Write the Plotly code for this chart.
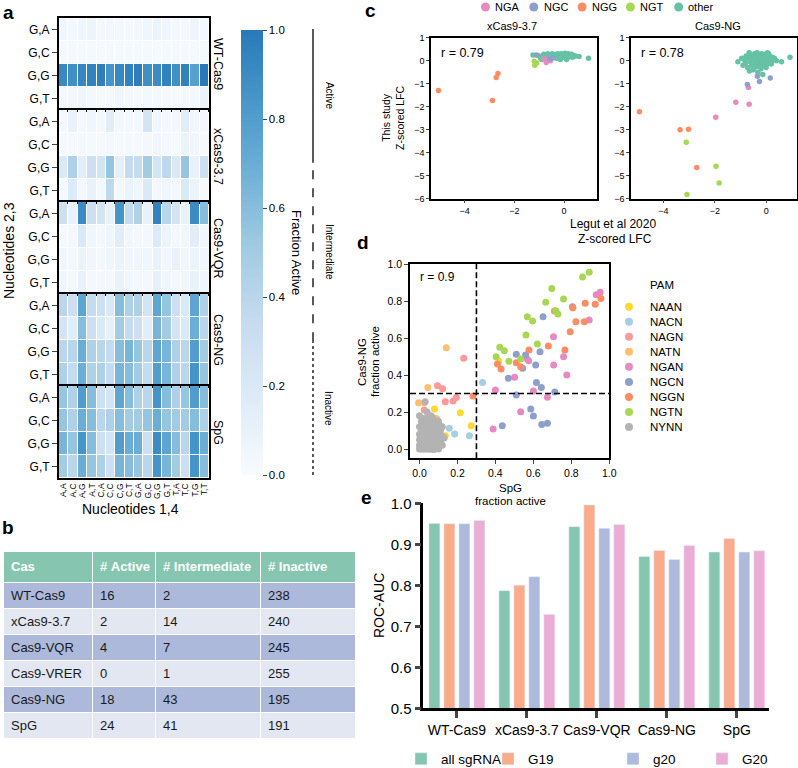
import plotly.graph_objects as go

W, H = 798, 768
FONT = "Liberation Sans, Arial, sans-serif"


def fx(p):
    return p / W


def fy(p):
    return 1 - p / H


# ---------------- panel a : heatmaps ----------------
nuc14 = ["A,A", "A,C", "A,G", "A,T", "C,A", "C,C", "C,G", "C,T",
         "G,A", "G,C", "G,G", "G,T", "T,A", "T,C", "T,G", "T,T"]
nuc23 = ["G,A", "G,C", "G,G", "G,T"]
cas_a = ["WT-Cas9", "xCas9-3.7", "Cas9-VQR", "Cas9-NG", "SpG"]

frac_wt = [
    [0.05, 0.03, 0.05, 0.07, 0.03, 0.04, 0.03, 0.03, 0.03, 0.05, 0.08, 0.05, 0.03, 0.03, 0.06, 0.03],
    [0.02, 0.02, 0.02, 0.02, 0.02, 0.02, 0.02, 0.02, 0.02, 0.02, 0.02, 0.02, 0.02, 0.02, 0.02, 0.02],
    [0.92, 0.88, 0.93, 0.95, 0.97, 0.85, 0.92, 0.95, 0.98, 0.88, 0.90, 0.95, 0.88, 0.96, 0.78, 1.00],
    [0.03, 0.03, 0.05, 0.03, 0.02, 0.02, 0.05, 0.03, 0.02, 0.03, 0.03, 0.02, 0.02, 0.03, 0.03, 0.08],
]
frac_xcas = [
    [0.03, 0.10, 0.03, 0.05, 0.03, 0.15, 0.03, 0.03, 0.03, 0.25, 0.05, 0.03, 0.03, 0.15, 0.05, 0.03],
    [0.02, 0.02, 0.03, 0.02, 0.02, 0.03, 0.02, 0.02, 0.02, 0.03, 0.05, 0.03, 0.02, 0.08, 0.05, 0.02],
    [0.20, 0.45, 0.15, 0.30, 0.25, 0.55, 0.12, 0.35, 0.35, 0.50, 0.25, 0.38, 0.20, 0.55, 0.10, 0.30],
    [0.02, 0.18, 0.03, 0.10, 0.03, 0.38, 0.03, 0.08, 0.05, 0.20, 0.03, 0.05, 0.03, 0.20, 0.08, 0.02],
]
frac_vqr = [
    [0.30, 0.10, 0.90, 0.30, 0.25, 0.10, 0.85, 0.35, 0.45, 0.10, 0.95, 0.40, 0.25, 0.10, 0.90, 0.60],
    [0.02, 0.03, 0.20, 0.05, 0.03, 0.05, 0.15, 0.05, 0.03, 0.03, 0.18, 0.08, 0.03, 0.05, 0.15, 0.05],
    [0.05, 0.03, 0.08, 0.05, 0.03, 0.05, 0.08, 0.05, 0.05, 0.05, 0.10, 0.05, 0.10, 0.05, 0.08, 0.05],
    [0.05, 0.03, 0.10, 0.03, 0.03, 0.03, 0.10, 0.05, 0.03, 0.03, 0.12, 0.05, 0.03, 0.05, 0.10, 0.05],
]
frac_ng = [
    [0.40, 0.30, 0.75, 0.35, 0.30, 0.20, 0.60, 0.45, 0.45, 0.25, 0.75, 0.55, 0.30, 0.20, 0.75, 0.45],
    [0.25, 0.15, 0.60, 0.30, 0.20, 0.12, 0.50, 0.35, 0.30, 0.15, 0.65, 0.50, 0.25, 0.20, 0.70, 0.40],
    [0.40, 0.40, 0.70, 0.45, 0.40, 0.35, 0.60, 0.65, 0.55, 0.40, 0.75, 0.65, 0.45, 0.40, 0.80, 0.50],
    [0.45, 0.35, 0.70, 0.45, 0.45, 0.35, 0.65, 0.60, 0.50, 0.35, 0.80, 0.65, 0.45, 0.40, 0.85, 0.55],
]
frac_spg = [
    [0.55, 0.45, 0.80, 0.60, 0.30, 0.25, 0.75, 0.60, 0.45, 0.40, 0.85, 0.60, 0.45, 0.55, 0.80, 0.60],
    [0.55, 0.45, 0.70, 0.60, 0.40, 0.45, 0.60, 0.50, 0.50, 0.55, 0.70, 0.55, 0.50, 0.50, 0.60, 0.45],
    [0.65, 0.55, 0.85, 0.60, 0.30, 0.25, 0.80, 0.70, 0.70, 0.30, 0.90, 0.75, 0.60, 0.40, 0.85, 0.70],
    [0.50, 0.40, 0.70, 0.55, 0.45, 0.30, 0.65, 0.60, 0.55, 0.40, 0.85, 0.65, 0.50, 0.30, 0.85, 0.60],
]
heat_values = [frac_wt, frac_xcas, frac_vqr, frac_ng, frac_spg]
activity_thresholds = [0.3, 0.7]
activity_labels = ["Inactive", "Intermediate", "Active"]

# ---------------- panel b : table ----------------
tab_header = ["Cas", "# Active", "# Intermediate", "# Inactive"]
tab_cas = ["WT-Cas9", "xCas9-3.7", "Cas9-VQR", "Cas9-VRER", "Cas9-NG", "SpG"]
tab_active = [16, 2, 4, 0, 18, 24]
tab_intermediate = [2, 14, 7, 1, 43, 41]
tab_inactive = [238, 240, 245, 255, 195, 191]

# ---------------- panel c : z-scored LFC comparison ----------------
c_pams = ["NGA", "NGC", "NGG", "NGT", "other"]
c_colors = ["#e78ac3", "#8da0cb", "#fc8d62", "#a6d854", "#66c2a5"]
c_r = ["r = 0.79", "r = 0.78"]
c_titles = ["xCas9-3.7", "Cas9-NG"]

c1_nga = [(-0.72, -0.08), (-0.8, 0.08), (-0.55, 0.0)]
c1_ngc = [(-1.12, 0.25), (-0.56, 0.07), (-0.45, 0.12)]
c1_ngg = [(-5.05, -1.3), (-2.88, -1.73), (-2.73, -0.73), (-2.66, -0.56)]
c1_ngt = [(-1.2, -0.02), (-1.18, -0.2), (-1.1, -0.1)]
c1_other = [(-1.25, 0.25), (-1.05, 0.22), (-0.95, 0.12), (-0.88, 0.2), (-0.82, 0.28), (-0.75, 0.15),
            (-0.7, 0.22), (-0.66, 0.3), (-0.6, 0.18), (-0.55, 0.25), (-0.52, 0.12), (-0.48, 0.3),
            (-0.44, 0.2), (-0.4, 0.15), (-0.36, 0.27), (-0.32, 0.22), (-0.3, 0.1), (-0.26, 0.3),
            (-0.22, 0.18), (-0.2, 0.25), (-0.16, 0.13), (-0.12, 0.3), (-0.1, 0.2), (-0.06, 0.26),
            (-0.03, 0.15), (0.0, 0.22), (0.03, 0.32), (0.06, 0.18), (0.08, 0.27), (0.11, 0.12),
            (0.14, 0.22), (0.17, 0.3), (0.2, 0.17), (0.23, 0.25), (0.26, 0.2), (0.3, 0.28),
            (0.34, 0.15), (0.38, 0.22), (0.45, 0.2), (0.6, 0.18), (0.98, 0.1), (-0.9, 0.05),
            (-0.62, 0.08), (-0.15, 0.05), (0.1, 0.05)]

c2_nga = [(-0.69, -1.17), (-1.18, -1.81), (-0.66, -1.9), (-1.96, -2.46)]
c2_ngc = [(-0.73, -1.04), (-0.34, -0.68), (-0.26, -0.91), (0.16, -0.75)]
c2_ngg = [(-4.93, -2.22), (-3.35, -3.01), (-3.02, -2.98), (-2.7, -4.65)]
c2_ngt = [(-3.11, -3.55), (-1.95, -4.6), (-1.83, -5.32), (-3.08, -5.83)]
c2_other = [(-1.1, -0.05), (-0.95, 0.1), (-0.9, -0.2), (-0.85, 0.05), (-0.8, -0.1), (-0.78, 0.2),
            (-0.72, -0.3), (-0.7, 0.1), (-0.66, 0.35), (-0.62, -0.05), (-0.6, 0.25), (-0.56, -0.2),
            (-0.52, 0.15), (-0.5, -0.4), (-0.47, 0.05), (-0.45, 0.3), (-0.42, -0.1), (-0.4, 0.2),
            (-0.37, -0.25), (-0.35, 0.1), (-0.32, -0.5), (-0.3, 0.0), (-0.28, 0.25), (-0.25, -0.15),
            (-0.23, 0.12), (-0.2, -0.35), (-0.18, 0.3), (-0.16, 0.02), (-0.13, -0.6), (-0.12, 0.18),
            (-0.1, -0.2), (-0.08, 0.08), (-0.05, 0.28), (-0.04, -0.08), (-0.02, 0.15), (0.0, -0.3),
            (0.02, 0.05), (0.04, 0.22), (0.06, -0.12), (0.08, 0.12), (0.1, 0.3), (0.12, -0.02),
            (0.15, 0.18), (0.18, 0.08), (0.2, -0.15), (0.24, 0.15), (0.28, 0.02), (0.32, 0.1),
            (0.4, 0.0), (0.6, -0.05), (0.93, 0.15), (-0.65, -0.45), (-0.35, 0.35), (0.05, 0.35)]

# ---------------- panel d : SpG vs Cas9-NG fraction active ----------------
d_pams = ["NAAN", "NACN", "NAGN", "NATN", "NGAN", "NGCN", "NGGN", "NGTN", "NYNN"]
d_colors = ["#ffd92f", "#a6cee3", "#fb9a99", "#fdbf6f", "#e78ac3", "#8da0cb", "#fc8d62", "#a6d854", "#b3b3b3"]
d_threshold = 0.3
d_r = "r = 0.9"

d_naan = [(0.418, 0.476), (0.079, 0.216), (0.215, 0.196), (0.272, 0.126), (0.136, 0.072), (0.083, 0.03)]
d_nacn = [(0.332, 0.36), (0.157, 0.112), (0.185, 0.081), (0.263, 0.072), (0.074, -0.002)]
d_nagn = [(0.233, 0.49), (0.095, 0.342), (0.122, 0.326), (0.194, 0.279), (0.177, 0.26), (0.136, 0.256),
          (0.025, 0.211), (0.042, 0.171), (0.053, 0.139)]
d_natn = [(0.141, 0.548), (0.044, 0.333), (-0.005, 0.25), (0.025, 0.25), (0.018, 0.139), (0.09, 0.165)]
d_ngan = [(0.952, 0.847), (0.931, 0.834), (0.894, 0.697), (0.706, 0.607), (0.759, 0.499), (0.707, 0.454),
          (0.776, 0.4), (0.568, 0.485), (0.575, 0.477), (0.501, 0.388), (0.4, 0.319), (0.6, 0.314),
          (0.674, 0.28), (0.533, 0.202), (0.388, 0.108)]
d_ngcn = [(0.806, 0.769), (0.651, 0.715), (0.635, 0.526), (0.559, 0.508), (0.51, 0.512), (0.543, 0.436),
          (0.612, 0.454), (0.468, 0.382), (0.616, 0.36), (0.642, 0.333), (0.713, 0.308), (0.51, 0.292),
          (0.586, 0.216), (0.6, 0.178), (0.644, 0.133), (0.674, 0.139), (0.436, 0.126)]
d_nggn = [(0.956, 0.814), (0.926, 0.782), (0.873, 0.788), (0.808, 0.764), (0.824, 0.688), (0.868, 0.688),
          (0.794, 0.634), (0.679, 0.557), (0.766, 0.535), (0.577, 0.535), (0.411, 0.459), (0.43, 0.432),
          (0.51, 0.466), (0.533, 0.445), (0.711, 0.746), (0.282, 0.286)]
d_ngtn = [(0.894, 0.955), (0.859, 0.93), (0.697, 0.868), (0.665, 0.793), (0.759, 0.811), (0.718, 0.748),
          (0.73, 0.73), (0.568, 0.715), (0.596, 0.692), (0.561, 0.616), (0.621, 0.568), (0.423, 0.55),
          (0.447, 0.531), (0.404, 0.499), (0.471, 0.474), (0.533, 0.486)]
d_nynn = [(0.0, 0.0), (0.01, 0.0), (0.02, 0.0), (0.03, 0.0), (0.04, 0.0), (0.05, 0.0), (0.06, 0.0),
          (0.07, 0.0), (0.08, 0.0), (0.1, 0.0), (0.0, 0.02), (0.02, 0.03), (0.04, 0.02), (0.06, 0.03),
          (0.08, 0.02), (0.1, 0.03), (0.0, 0.05), (0.01, 0.04), (0.03, 0.05), (0.05, 0.06), (0.07, 0.05),
          (0.09, 0.06), (0.11, 0.04), (0.0, 0.08), (0.02, 0.07), (0.04, 0.08), (0.06, 0.07), (0.08, 0.09),
          (0.1, 0.08), (0.12, 0.07), (0.01, 0.1), (0.03, 0.11), (0.05, 0.1), (0.07, 0.12), (0.09, 0.11),
          (0.11, 0.1), (0.0, 0.12), (0.02, 0.13), (0.04, 0.12), (0.06, 0.14), (0.08, 0.13), (0.1, 0.12),
          (0.01, 0.15), (0.03, 0.16), (0.05, 0.15), (0.07, 0.17), (0.09, 0.15), (0.0, 0.18), (0.06, 0.18),
          (0.04, 0.2), (0.03, 0.255), (0.02, 0.06), (0.12, 0.02), (0.13, 0.06), (0.1, 0.15), (0.01, 0.01),
          (0.03, 0.015), (0.05, 0.035), (0.07, 0.025), (0.09, 0.04), (0.015, 0.085), (0.035, 0.095),
          (0.055, 0.085), (0.075, 0.095), (0.095, 0.09), (0.025, 0.115), (0.045, 0.135), (0.065, 0.105),
          (0.085, 0.14), (0.105, 0.13), (0.02, 0.165), (0.12, 0.12), (0.11, 0.055)]
d_series = [d_naan, d_nacn, d_nagn, d_natn, d_ngan, d_ngcn, d_nggn, d_ngtn, d_nynn]

# ---------------- panel e : ROC-AUC bars ----------------
e_cas = ["WT-Cas9", "xCas9-3.7", "Cas9-VQR", "Cas9-NG", "SpG"]
e_names = ["all sgRNA", "G19", "g20", "G20"]
e_colors = ["#85c6b0", "#f9ab8b", "#adbadb", "#ebadd5"]
auc_all = [0.951, 0.787, 0.943, 0.870, 0.881]
auc_g19 = [0.950, 0.800, 0.996, 0.885, 0.914]
auc_g20_lower = [0.950, 0.821, 0.939, 0.863, 0.881]
auc_g20_upper = [0.958, 0.729, 0.948, 0.897, 0.884]
e_values = [auc_all, auc_g19, auc_g20_lower, auc_g20_upper]

# ====================================================================
blues_scale = [[0.0, "#f7fbff"], [0.174, "#deebf7"], [0.347, "#c6dbef"], [0.521, "#9ecae1"],
               [0.694, "#6baed6"], [0.868, "#4292c6"], [1.0, "#2979b9"]]

fig = go.Figure()
layout = {}
annotations = []
shapes = []


def ann(text, x, y, size=12, angle=0, xanchor="center", yanchor="middle", xref="paper", yref="paper", color="black"):
    annotations.append(dict(text=text, x=x, y=y, xref=xref, yref=yref, showarrow=False,
                            textangle=angle, xanchor=xanchor, yanchor=yanchor,
                            font=dict(size=size, color=color, family=FONT)))


def axkey(prefix, n):
    return prefix if n == 1 else f"{prefix}{n}"


def pair(lst):
    return [p[0] for p in lst], [p[1] for p in lst]


# ---- panel a
a_top, a_block = 18, 92
for i, (cas, z) in enumerate(zip(cas_a, heat_values)):
    n = i + 1
    fig.add_trace(go.Heatmap(z=z, x=nuc14, y=nuc23, coloraxis="coloraxis", xgap=1, ygap=1,
                             xaxis=axkey("x", n), yaxis=axkey("y", n), hoverinfo="skip"))
    top = a_top + a_block * i
    layout[axkey("xaxis", n)] = dict(domain=[fx(59), fx(209)], anchor=axkey("y", n),
                                     showline=True, mirror=True, linewidth=2, linecolor="black",
                                     ticks="", showticklabels=(i == 4), tickangle=-90,
                                     tickmode="array", tickvals=nuc14, ticktext=nuc14,
                                     tickfont=dict(size=8.5), showgrid=False, zeroline=False)
    layout[axkey("yaxis", n)] = dict(domain=[fy(top + a_block), fy(top)], anchor=axkey("x", n),
                                     autorange="reversed", showline=True, mirror=True, linewidth=2,
                                     linecolor="black", ticks="outside", ticklen=5, tickwidth=1,
                                     tickfont=dict(size=12), showgrid=False, zeroline=False)
    ann(cas, fx(218), fy(top + a_block / 2), size=12.5, angle=90)

layout["coloraxis"] = dict(colorscale=blues_scale, cmin=0, cmax=1,
                           colorbar=dict(x=fx(241), xanchor="left", y=fy(30), yanchor="top",
                                         len=445 / H, lenmode="fraction", thickness=22,
                                         thicknessmode="pixels", outlinewidth=0, ticks="outside",
                                         ticklen=4, tickwidth=1, tickvals=[0, 0.2, 0.4, 0.6, 0.8, 1.0],
                                         tickformat=".1f", tickfont=dict(size=11.5), xpad=0, ypad=0))
ann("Fraction Active", fx(297), fy(252), size=13, angle=90)

# threshold guide next to colorbar
bounds = [0.0] + activity_thresholds + [1.0]
dashes = ["dot", "dash", "solid"]
for k in range(3):
    fig.add_trace(go.Scatter(x=[0, 0], y=[bounds[k], bounds[k + 1]], mode="lines",
                             line=dict(color="black", width=1.3, dash=dashes[k]),
                             xaxis="x6", yaxis="y6", showlegend=False, hoverinfo="skip"))
    ann(activity_labels[k], 1, (bounds[k] + bounds[k + 1]) / 2, size=10, angle=90,
        xref="x6", yref="y6")
layout["xaxis6"] = dict(domain=[fx(297), fx(345)], range=[-1, 2], visible=False, anchor="y6")
layout["yaxis6"] = dict(domain=[fy(475), fy(29)], range=[0, 1.0], visible=False, anchor="x6")

ann("Nucleotides 1,4", fx(130), fy(509), size=14)
ann("Nucleotides 2,3", fx(9), fy(251), size=14, angle=-90)

# ---- panel b : table
NBSP = "\u00a0"
row_fill = ["#adb9db" if r % 2 == 0 else "#e3e7f2" for r in range(len(tab_cas))]
fig.add_trace(go.Table(
    domain=dict(x=[fx(3), fx(355)], y=[fy(745), fy(551)]),
    columnwidth=[89, 63, 105, 95],
    header=dict(values=[f"<b>{h.replace(' ', NBSP)}</b>" for h in tab_header], fill_color="#86c6b0",
                font=dict(color="white", size=13, family=FONT), align="left", height=26,
                line=dict(color="white", width=1)),
    cells=dict(values=[tab_cas, tab_active, tab_intermediate, tab_inactive],
               fill_color=[row_fill] * 4, font=dict(color="#1a1a1a", size=13, family=FONT),
               align="left", height=26, line=dict(color="white", width=1)),
))

# ---- panel c
c_sets = [[c1_nga, c1_ngc, c1_ngg, c1_ngt, c1_other], [c2_nga, c2_ngc, c2_ngg, c2_ngt, c2_other]]
c_x_dom = [(431, 596.7), (631, 796.7)]
c_x_rng = [(-5.35, 1.31), (-5.26, 1.19)]
for j in range(2):
    n = 7 + j
    order = [4, 0, 1, 2, 3]
    for k in order:
        xs, ys = pair(c_sets[j][k])
        fig.add_trace(go.Scatter(x=xs, y=ys, mode="markers", marker=dict(color=c_colors[k], size=5.5),
                                 xaxis=f"x{n}", yaxis=f"y{n}", showlegend=False, hoverinfo="skip"))
    layout[f"xaxis{n}"] = dict(domain=[fx(c_x_dom[j][0]), fx(c_x_dom[j][1])], range=list(c_x_rng[j]),
                               anchor=f"y{n}", showline=True, mirror=True, linewidth=1.5,
                               linecolor="black", ticks="outside", ticklen=3, tickvals=[-4, -2, 0],
                               tickfont=dict(size=9), showgrid=False, zeroline=False)
    layout[f"yaxis{n}"] = dict(domain=[fy(198.5), fy(37.7)], range=[-6, 1], anchor=f"x{n}",
                               showline=True, mirror=True, linewidth=1.5, linecolor="black",
                               ticks="outside", ticklen=3, tickvals=list(range(-6, 2)),
                               tickfont=dict(size=9), showgrid=False, zeroline=False)
    ann(c_titles[j], fx([512, 718][j]), fy(26), size=11)
    ann(c_r[j], fx([462, 662][j]), fy(53), size=12.5)

ann("This study<br>Z-scored LFC", fx(393), fy(118), size=10.5, angle=-90)
ann("Legut et al 2020", fx(613), fy(223.5), size=12)
ann("Z-scored LFC", fx(615), fy(239.5), size=12)

# c legend (drawn on hidden axis)
fig.add_trace(go.Scatter(x=list(range(len(c_pams))), y=[0] * len(c_pams), mode="markers",
                         marker=dict(color=c_colors, size=9), xaxis="x11", yaxis="y11",
                         showlegend=False, hoverinfo="skip"))
for k, p in enumerate(c_pams):
    ann(p, k + 0.16, 0, size=11, xanchor="left", xref="x11", yref="y11")
layout["xaxis11"] = dict(domain=[fx(475), fx(730)], range=[-0.217, 5.062], visible=False, anchor="y11")
layout["yaxis11"] = dict(domain=[fy(14), fy(0)], range=[-1, 1], visible=False, anchor="x11")

# ---- panel d
for k, s in enumerate(d_series):
    xs, ys = pair(s)
    fig.add_trace(go.Scatter(x=xs, y=ys, mode="markers", marker=dict(color=d_colors[k], size=7),
                             xaxis="x9", yaxis="y9", showlegend=False, hoverinfo="skip"))
tick01 = [0, 0.2, 0.4, 0.6, 0.8, 1.0]
layout["xaxis9"] = dict(domain=[fx(410), fx(609.3)], range=[-0.05, 1.0], anchor="y9", showline=True,
                        mirror=True, linewidth=1.5, linecolor="black", ticks="outside", ticklen=4,
                        tickvals=tick01, tickformat=".1f", tickfont=dict(size=10.5),
                        showgrid=False, zeroline=False)
layout["yaxis9"] = dict(domain=[fy(458.3), fy(264)], range=[-0.05, 1.0], anchor="x9", showline=True,
                        mirror=True, linewidth=1.5, linecolor="black", ticks="outside", ticklen=4,
                        tickvals=tick01, tickformat=".1f", tickfont=dict(size=10.5),
                        showgrid=False, zeroline=False)
shapes.append(dict(type="line", xref="x9", yref="y9 domain", x0=d_threshold, x1=d_threshold, y0=0, y1=1,
                   line=dict(color="black", width=1.6, dash="6px,3px")))
shapes.append(dict(type="line", xref="x9 domain", yref="y9", x0=0, x1=1, y0=d_threshold, y1=d_threshold,
                   line=dict(color="black", width=1.6, dash="6px,3px")))
ann(d_r, fx(437), fy(277), size=12)
ann("Cas9-NG", fx(362), fy(362), size=11.5, angle=-90)
ann("fraction active", fx(375), fy(362), size=11.5, angle=-90)
ann("SpG", fx(510), fy(488), size=11.5)
ann("fraction active", fx(510), fy(500.5), size=11.5)

# d legend (hidden axis)
fig.add_trace(go.Scatter(x=[0] * len(d_pams), y=list(range(len(d_pams))), mode="markers",
                         marker=dict(color=d_colors, size=8), xaxis="x12", yaxis="y12",
                         showlegend=False, hoverinfo="skip"))
for k, p in enumerate(d_pams):
    ann(p, 1.9, k, size=11.5, xanchor="left", xref="x12", yref="y12")
ann("PAM", 1.9, -1.44, size=11.5, xanchor="left", xref="x12", yref="y12")
layout["xaxis12"] = dict(domain=[fx(620), fx(720)], range=[-0.9, 9.1], visible=False, anchor="y12")
layout["yaxis12"] = dict(domain=[fy(440), fy(270)], range=[8.863, -2.44], visible=False, anchor="x12")

# ---- panel e
legend_text_x = [446, 533, 658, 747]
for k in range(4):
    lk = axkey("legend", k + 1)
    fig.add_trace(go.Bar(x=e_cas, y=e_values[k], name=e_names[k], marker=dict(color=e_colors[k]),
                         xaxis="x10", yaxis="y10", legend=lk, hoverinfo="skip"))
    layout[lk] = dict(x=fx(legend_text_x[k] - 45), xanchor="left", y=fy(759), yanchor="middle",
                      orientation="h", bgcolor="rgba(0,0,0,0)", font=dict(size=13.5, family=FONT))
layout["xaxis10"] = dict(domain=[fx(423.3), fx(769)], range=[-0.48, 4.46], anchor="y10", showline=True,
                         linewidth=2.5, linecolor="black", ticks="outside", ticklen=7, tickwidth=2.5,
                         tickfont=dict(size=14), showgrid=False, zeroline=False)
layout["yaxis10"] = dict(domain=[fy(708.3), fy(503.3)], range=[0.5, 1.0], anchor="x10", showline=True,
                         linewidth=2.5, linecolor="black", ticks="outside", ticklen=6, tickwidth=2.5,
                         tickvals=[0.5, 0.6, 0.7, 0.8, 0.9, 1.0], tickformat=".1f",
                         tickfont=dict(size=15), showgrid=False, zeroline=False)
ann("ROC-AUC", fx(379), fy(606), size=14, angle=-90)

# panel letters
for letter, (px, py) in zip("abcde", [(8, 12.5), (8, 527), (370, 10), (363, 242), (366.7, 497)]):
    ann(f"<b>{letter}</b>", fx(px), fy(py), size=19)

fig.update_layout(**layout)
fig.update_layout(width=W, height=H, margin=dict(l=0, r=0, t=0, b=0, autoexpand=False),
                  plot_bgcolor="white", paper_bgcolor="white", font=dict(family=FONT, color="black"),
                  barmode="group", bargap=0.143, bargroupgap=0.27, annotations=annotations,
                  shapes=shapes, showlegend=True)
fig.write_html("out.html", config={"displayModeBar": False},
               post_script="document.body.style.margin='0';document.body.style.padding='0';")
